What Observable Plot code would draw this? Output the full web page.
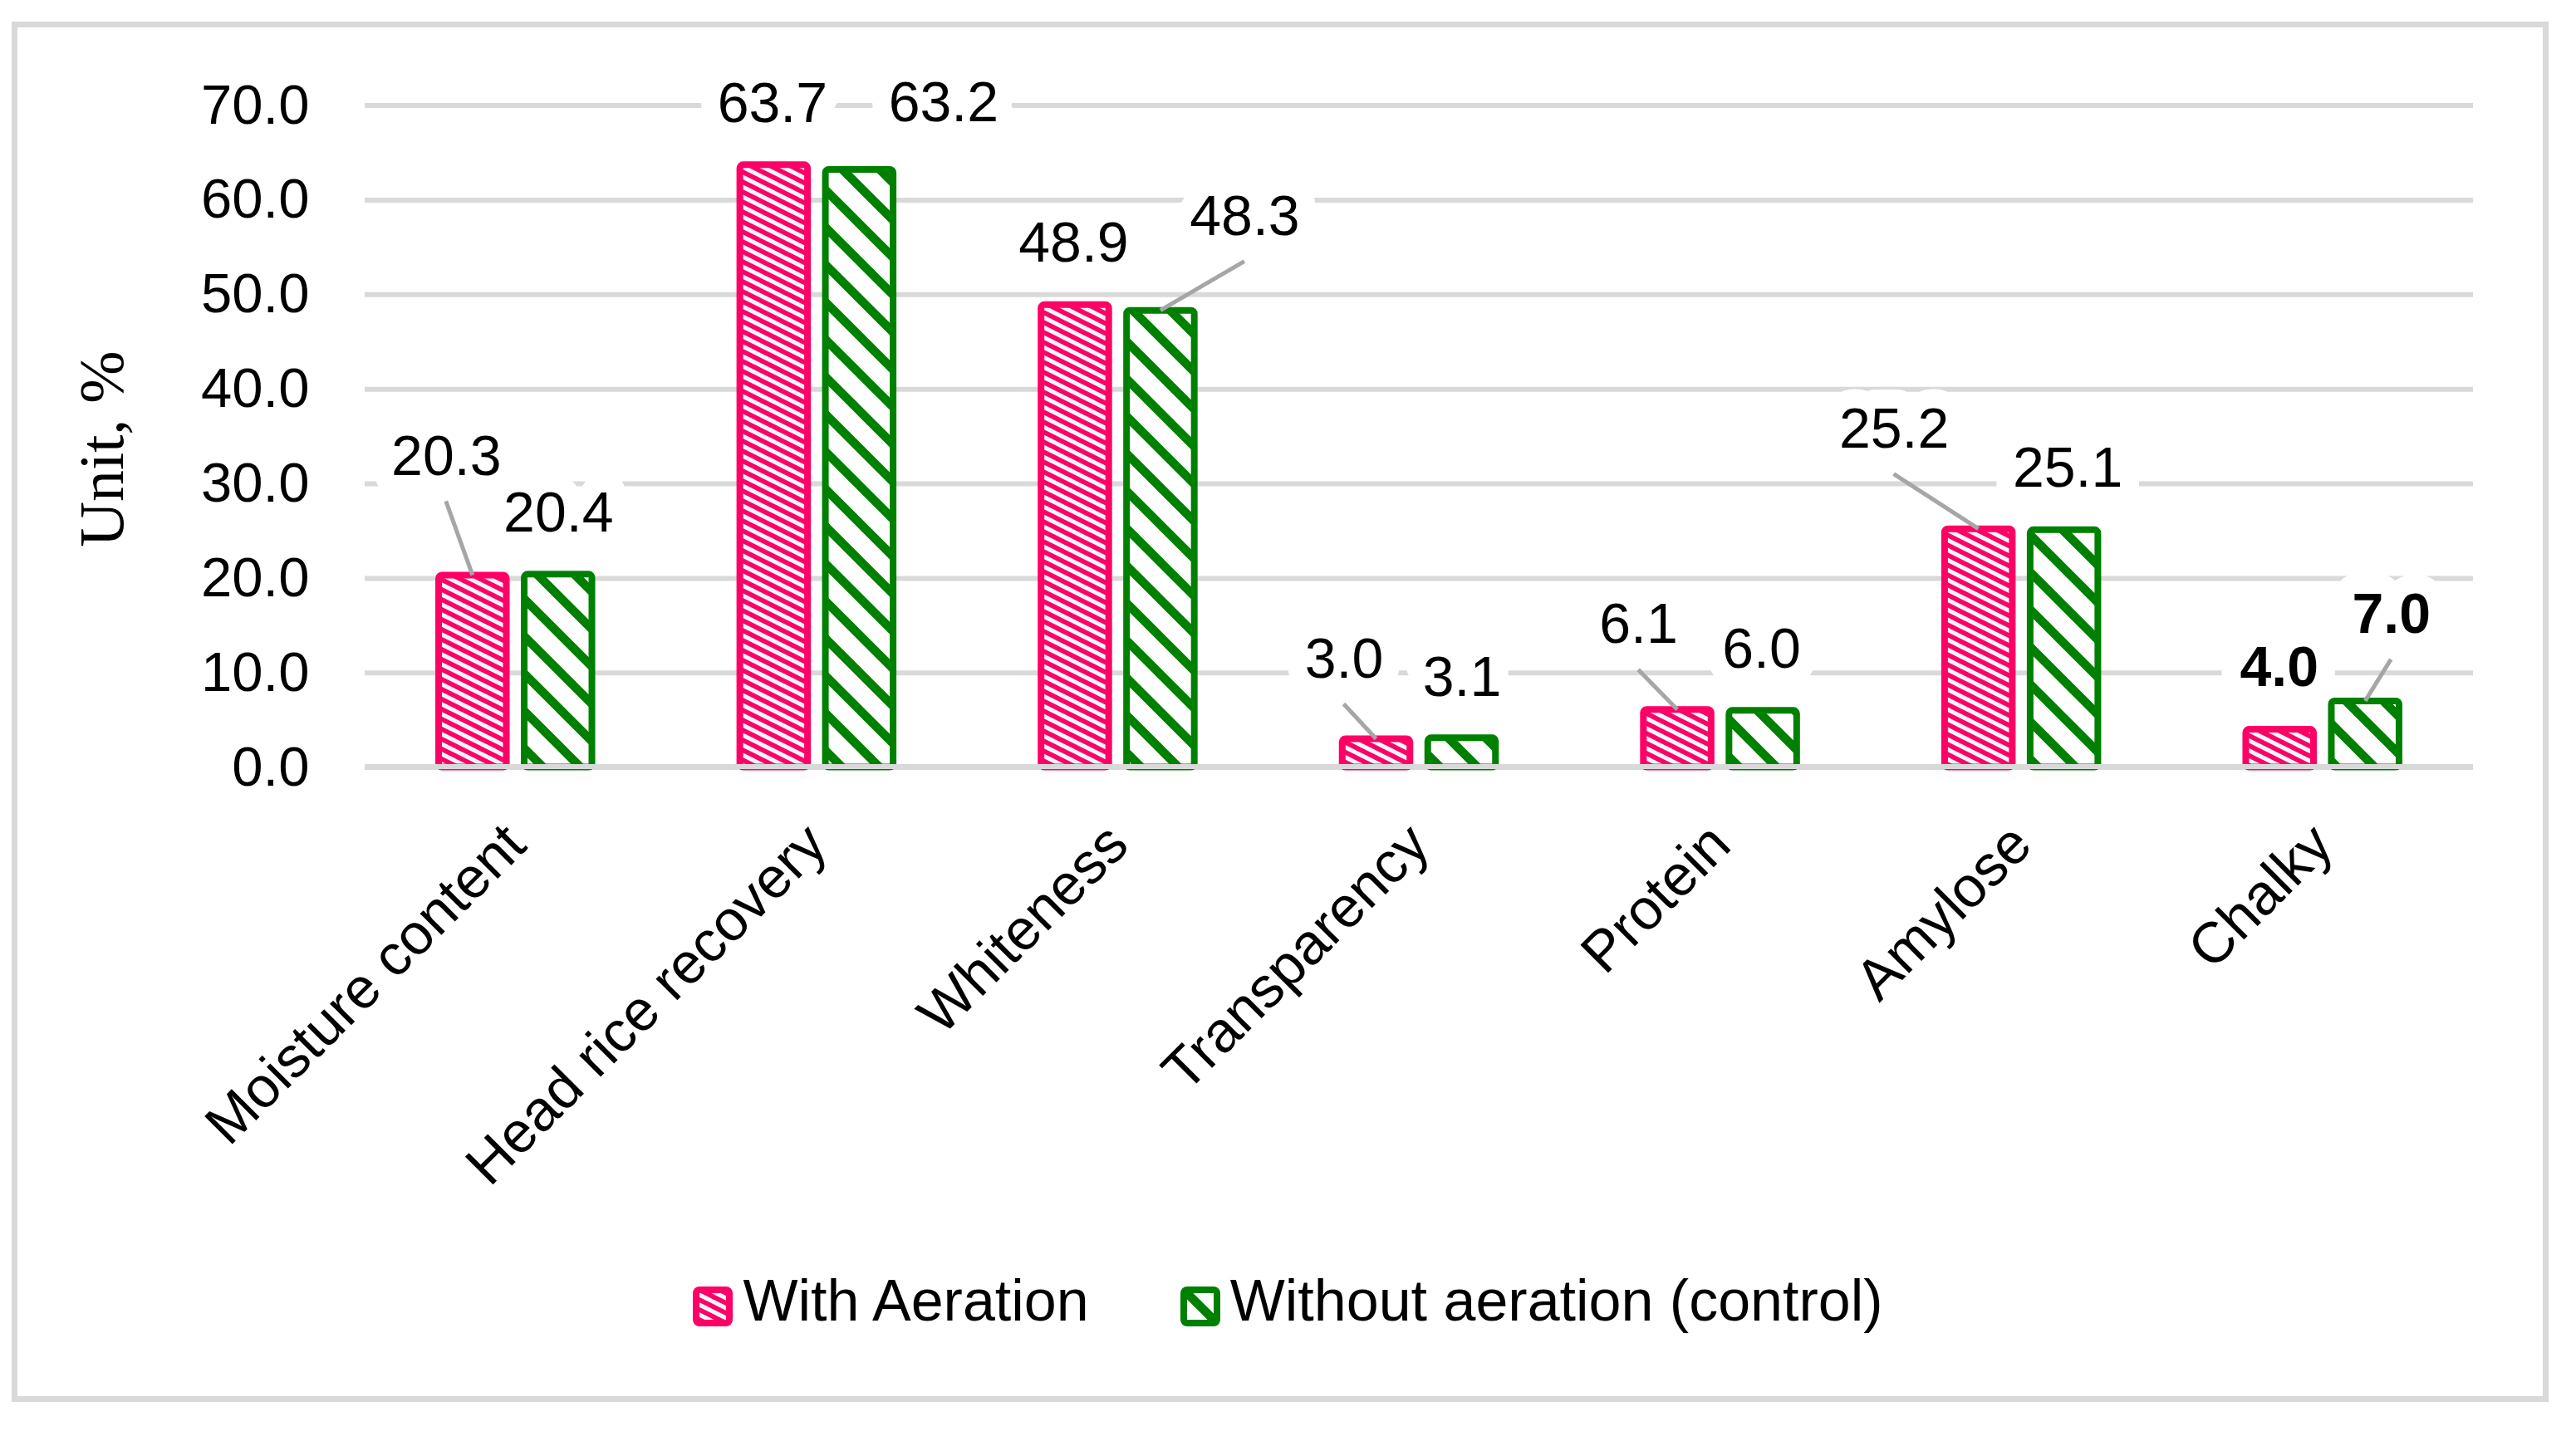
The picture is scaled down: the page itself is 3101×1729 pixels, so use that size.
<!DOCTYPE html>
<html>
<head>
<meta charset="utf-8">
<script src="https://cdn.jsdelivr.net/npm/d3@7"></script>
<script src="https://cdn.jsdelivr.net/npm/@observablehq/plot@0.6"></script>
<style>
  html, body { margin: 0; background: #fff; }
  body { width: 3101px; height: 1729px; position: relative; overflow: hidden;
         font-family: "Liberation Sans", Arial, sans-serif; }
  #frame { position: absolute; left: 14px; top: 26px; width: 3054px; height: 1662px;
           border: 7px solid #d9d9d9; box-sizing: border-box; }
  #chart { position: absolute; left: 0; top: 0; }
  #legend { position: absolute; left: 0; top: 1541px; width: 3101px; height: 64px;
            display: flex; justify-content: center; align-items: center;
            font-size: 70px; color: #000; }
  .item { display: flex; align-items: center; white-space: nowrap; }
  .item + .item { margin-left: 110px; }
  .item svg { margin-right: 12px; display: block; }
  .item span { position: relative; top: -7px; }
</style>
</head>
<body>
<svg width="0" height="0" style="position:absolute">
  <defs>
    <pattern id="hatchPink" patternUnits="userSpaceOnUse" width="24" height="12">
      <rect width="24" height="12" fill="#eaf6fc"/>
      <path d="M-6,-15L30,3M-6,-3L30,15M-6,9L30,27" stroke="#ff0066" stroke-width="5.6" fill="none"/>
    </pattern>
    <pattern id="hatchGreen" patternUnits="userSpaceOnUse" width="45" height="45">
      <rect width="45" height="45" fill="#ffffff"/>
      <path d="M-10,-55L55,10M-10,-10L55,55M-10,35L55,100" stroke="#008000" stroke-width="10.5" fill="none"/>
    </pattern>
  </defs>
</svg>
<div id="frame"></div>
<div id="chart"></div>
<div id="legend"></div>
<script>
// Milled rice quality, with and without aeration
const categories = ["Moisture content", "Head rice recovery", "Whiteness", "Transparency", "Protein", "Amylose", "Chalky"];
const seriesNames = ["With Aeration", "Without aeration (control)"];
const withAeration = [20.3, 63.7, 48.9, 3.0, 6.1, 25.2, 4.0];
const withoutAeration = [20.4, 63.2, 48.3, 3.1, 6.0, 25.1, 7.0];
const yTicks = [0, 10, 20, 30, 40, 50, 60, 70];
const yTitle = "Unit, %";

const seriesValues = [withAeration, withoutAeration];
const seriesFill = ["url(#hatchPink)", "url(#hatchGreen)"];
const seriesStroke = ["#ff0066", "#008000"];

const rows = categories.flatMap((category, i) =>
  seriesNames.map((series, s) => ({category, series, s, i, value: seriesValues[s][i]}))
);

// Value label placement: [dx, dy] in px from the top centre of the bar,
// third entry = label was dragged away and gets a leader line.
const labelNudge = [
  [[-32, -145, true], [-2, -76], [-2, -76], [-39, -98, true], [-47, -104, true], [-102, -122, true], [-1, -76]],
  [[0, -76], [101, -82], [101, -115, true], [0, -75], [-2, -76], [4, -76], [31, -106, true]]
];
const boldCategories = new Set(["Chalky"]);

// Layout
const W = 3101, H = 1460;
const mLeft = 439, mRight = 124, mTop = 126.6, mBottom = H - 923.6;
const bandW = (W - mLeft - mRight) / categories.length;
const barW = 81.5, barGap = 21.5;
const barShift = [-(barW + barGap) / 2, (barW + barGap) / 2];
const insets = [
  {insetLeft: bandW / 2 - barGap / 2 - barW, insetRight: bandW / 2 + barGap / 2},
  {insetLeft: bandW / 2 + barGap / 2, insetRight: bandW / 2 - barGap / 2 - barW}
];
const font = "Liberation Sans, Arial, Helvetica, sans-serif";
const fmt = d3.format(".1f");

function leaderLines(index, scales, values, dims) {
  const bw = (dims.width - dims.marginLeft - dims.marginRight) / categories.length;
  const g = d3.create("svg:g")
    .attr("stroke", "#a6a6a6")
    .attr("stroke-width", 5)
    .attr("fill", "none");
  for (const r of rows) {
    const n = labelNudge[r.s][r.i];
    if (!n[2]) continue;
    const x0 = scales.x(r.category) + bw / 2 + barShift[r.s];
    const y0 = scales.y(r.value);
    g.append("line")
      .attr("x1", x0).attr("y1", y0)
      .attr("x2", x0 + n[0]).attr("y2", y0 + n[1] + 56);
  }
  return g.node();
}

const valueLabels = rows.map(r => {
  const n = labelNudge[r.s][r.i];
  return Plot.text([r], {
    x: "category",
    y: "value",
    text: d => fmt(d.value),
    dx: barShift[r.s] + n[0],
    dy: n[1] + 2,
    fontSize: 68,
    fontFamily: font,
    fontWeight: boldCategories.has(r.category) ? "bold" : "normal",
    fill: "#000",
    stroke: "#fff",
    strokeWidth: 46,
    strokeLinejoin: "round",
    paintOrder: "stroke",
    textAnchor: "middle",
    lineAnchor: "middle"
  });
});

const chart = Plot.plot({
  width: W,
  height: H,
  marginLeft: mLeft,
  marginRight: mRight,
  marginTop: mTop,
  marginBottom: mBottom,
  style: {fontFamily: font, fontSize: "67px", color: "#000", background: "transparent", overflow: "visible"},
  x: {domain: categories, padding: 0, round: false, axis: null},
  y: {domain: [0, 70], label: null},
  marks: [
    Plot.ruleY(yTicks, {stroke: "#d9d9d9", strokeWidth: 6, strokeOpacity: 1}),
    Plot.axisY({ticks: yTicks, tickSize: 0, tickPadding: 67, tickFormat: fmt, fontSize: 67, fontFamily: font, label: null}),
    Plot.text([yTitle], {
      frameAnchor: "left", rotate: -90, dx: -292, dy: 15,
      fontFamily: "Liberation Serif, Times New Roman, serif", fontSize: 76,
      textAnchor: "middle", lineAnchor: "bottom", fill: "#000"
    }),
    ...seriesNames.map((name, s) => Plot.barY(rows.filter(r => r.s === s), {
      x: "category",
      y: "value",
      fill: seriesFill[s],
      stroke: seriesStroke[s],
      strokeWidth: 8,
      rx: 4,
      ...insets[s]
    })),
    Plot.ruleY([0], {stroke: "#d9d9d9", strokeWidth: 6, strokeOpacity: 1, dy: -1}),
    leaderLines,
    ...valueLabels,
    Plot.text(categories, {
      x: d => d,
      text: d => d,
      frameAnchor: "bottom",
      rotate: -45,
      textAnchor: "end",
      lineAnchor: "middle",
      dy: 81,
      fontSize: 69,
      fontFamily: font,
      fill: "#000"
    })
  ]
});
document.getElementById("chart").appendChild(chart);

// Legend below the chart
const legend = d3.select("#legend");
seriesNames.forEach((name, s) => {
  const item = legend.append("div").attr("class", "item");
  const sw = item.append("svg").attr("width", 48).attr("height", 48);
  sw.append("rect")
    .attr("x", 4).attr("y", 4).attr("width", 40).attr("height", 40).attr("rx", 4)
    .attr("fill", seriesFill[s]).attr("stroke", seriesStroke[s]).attr("stroke-width", 8);
  item.append("span").text(name);
});
</script>
</body>
</html>
